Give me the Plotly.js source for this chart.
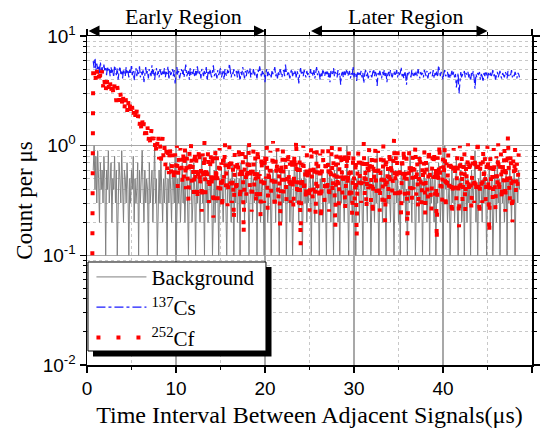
<!DOCTYPE html>
<html>
<head>
<meta charset="utf-8">
<script src="https://cdn.plot.ly/plotly-3.0.1.min.js"></script>
<style>html,body{margin:0;padding:0;background:#fff}#chart{width:542px;height:436px}</style>
</head>
<body>
<div id="chart"></div>
<script>
// Series names
const seriesNames = ['Background', '<sup>137</sup>Cs', '<sup>252</sup>Cf'];

// Time axis sampling (µs): first bin and bin width of each series
const bgStart = 0.7, bgStep = 0.1;
const csStart = 0.7, csStep = 0.1;
const cfStart = 0.6, cfStep = 0.1;

// Background (count per µs)
const bgY = [
0.6,1.0,0.4,0.8,0.3,0.9,0.5,0.2,0.7,0.4,0.6,0.3,0.8,0.5,0.1,0.6,0.4,0.9,0.3,0.5,
0.7,0.2,0.5,0.4,0.8,0.3,0.6,0.1,0.4,0.7,0.5,0.3,0.9,0.4,0.2,0.6,0.5,0.3,0.7,0.4,
0.1,0.5,0.3,0.6,0.4,0.8,0.2,0.5,0.3,0.4,0.7,0.1,0.6,0.3,0.5,0.9,0.4,0.2,0.6,0.3,
0.5,0.4,0.1,0.7,0.3,0.5,0.6,0.2,0.4,1.0,0.3,0.5,0.1,0.4,0.6,0.3,0.8,0.4,0.2,0.5,
0.3,0.6,0.4,0.1,0.5,0.3,0.7,0.4,0.2,0.6,0.5,0.3,0.8,0.1,0.4,0.5,0.3,0.6,0.2,0.4,
0.7,0.3,0.5,0.2,0.4,0.9,0.3,0.1,0.5,0.4,0.6,0.2,0.3,0.7,0.4,0.1,0.5,0.3,0.6,0.4,
0.2,0.5,0.8,0.3,0.4,0.1,0.6,0.3,0.5,0.2,0.4,0.7,0.3,0.5,0.1,0.4,0.6,0.2,0.9,0.3,
0.4,0.1,0.5,0.3,0.6,0.4,0.2,0.5,0.8,0.3,0.1,0.4,0.6,0.3,0.5,0.2,0.7,0.4,0.1,0.5,
0.3,0.6,0.2,0.4,0.5,0.1,0.7,0.3,0.4,0.6,0.2,0.5,0.3,1.0,0.4,0.1,0.3,0.5,0.6,0.2,
0.5,0.3,0.4,0.8,0.1,0.5,0.3,0.6,0.2,0.4,0.5,0.3,0.1,0.7,0.4,0.5,0.2,0.3,0.6,0.4,
0.1,0.4,0.6,0.3,0.5,0.2,0.9,0.4,0.3,0.1,0.5,0.6,0.2,0.4,0.3,0.7,0.5,0.1,0.4,0.3,
0.6,0.2,0.5,0.4,0.1,0.3,0.7,0.5,0.3,0.6,0.4,0.2,0.8,0.3,0.5,0.1,0.4,0.6,0.3,0.5,
0.2,0.4,0.3,0.7,0.5,0.1,0.4,0.6,0.3,0.2,0.5,0.9,0.4,0.3,0.1,0.5,0.4,0.6,0.2,0.4,
0.5,0.3,0.1,0.6,0.4,0.3,0.8,0.2,0.5,0.4,0.1,0.6,0.3,0.5,0.7,0.2,0.4,0.1,0.5,0.3,
0.6,0.4,0.2,0.5,0.3,1.0,0.4,0.1,0.6,0.3,0.5,0.2,0.4,0.7,0.3,0.1,0.5,0.4,0.6,0.2,
0.4,0.7,0.3,0.1,0.5,0.4,0.6,0.3,0.2,0.8,0.4,0.5,0.1,0.3,0.6,0.4,0.2,0.5,0.3,0.9,
0.3,0.1,0.5,0.4,0.6,0.2,0.4,0.7,0.3,0.1,0.5,0.3,0.6,0.4,0.2,0.5,0.8,0.3,0.1,0.4,
0.6,0.3,0.5,0.2,0.4,0.1,0.7,0.4,0.5,0.3,0.6,0.2,0.4,0.1,0.5,0.3,0.9,0.4,0.2,0.6,
0.4,0.5,0.1,0.3,0.6,0.4,0.2,0.8,0.3,0.5,0.1,0.4,0.6,0.3,0.5,0.2,0.4,0.7,0.1,0.5,
0.3,0.6,0.4,0.2,0.5,0.1,0.4,0.3,0.7,0.5,0.2,0.4,0.6,0.1,0.3,1.0,0.4,0.5,0.2,0.3,
0.5,0.1,0.4,0.6,0.3,0.5,0.2,0.4,0.8,0.3,0.1,0.5,0.4,0.6,0.2,0.3,0.5,0.1,0.7,0.4,
0.2,0.5,0.3,0.4,0.1,0.6,0.4,0.3,0.5,0.9,0.2,0.4,0.1,0.5,0.3,0.6,0.4,0.2,0.5,0.3,
0.6,0.4,0.1,0.5,0.3,0.7,0.2,0.4,0.5,0.1,0.3,0.6,0.4,0.2,0.8,0.3,0.5,0.1,0.4,0.6,
0.3,0.5,0.2,0.4,0.6,0.1,0.5,0.3,0.7,0.4,0.2,0.5,0.3,0.6,0.1,0.4,0.5,0.3,0.6,0.4
];

// 137Cs (count per µs)
const csY = [
5.9,5.1,6.3,4.8,5.6,5.0,5.4,4.6,5.8,4.9,5.2,4.5,5.5,4.8,5.1,4.4,5.3,4.7,5.0,4.3,
5.2,4.6,4.9,4.2,5.4,4.7,4.4,5.1,4.0,4.8,5.3,4.5,4.9,4.1,5.0,4.6,4.3,5.2,4.5,4.8,
4.2,5.0,4.6,5.5,4.4,4.8,3.9,4.7,5.1,4.3,4.9,4.5,5.3,4.2,4.7,4.4,5.0,3.8,4.6,5.2,
4.4,4.8,4.1,5.0,4.6,4.3,5.4,4.5,4.9,4.0,4.7,5.1,4.4,4.8,4.2,5.0,4.6,4.3,4.9,4.5,
5.1,4.2,4.7,4.5,5.3,4.0,4.8,4.4,4.6,5.0,4.3,4.9,3.7,4.6,5.2,4.4,4.8,4.1,4.7,5.0,
4.5,4.9,4.2,4.7,5.5,4.3,4.6,4.8,4.0,5.1,4.4,4.7,4.5,5.0,4.2,4.8,4.3,5.3,4.6,4.4,
4.8,4.1,5.0,4.6,4.3,4.9,4.5,5.2,3.9,4.7,4.4,5.0,4.6,4.2,4.8,5.4,4.3,4.7,4.5,4.1,
4.9,4.4,4.7,5.1,4.2,4.6,4.8,4.0,5.0,4.5,4.3,4.9,4.6,5.6,4.4,4.2,4.7,4.5,5.0,4.3,
4.6,4.8,4.2,5.0,4.5,3.9,4.7,4.4,5.2,4.6,4.1,4.8,4.3,4.9,4.5,4.7,5.1,4.2,4.6,4.4,
5.0,4.3,4.7,4.5,4.1,4.9,4.6,5.3,4.4,4.2,4.8,4.5,4.7,3.8,4.6,5.0,4.3,4.8,4.4,4.6,
4.2,4.9,4.5,4.7,5.2,4.3,4.6,4.1,4.8,4.4,5.0,4.5,4.2,4.7,4.9,4.3,5.5,4.6,4.4,4.8,
4.5,4.1,4.7,5.0,4.3,4.6,4.4,4.9,4.2,4.8,4.5,3.7,4.6,5.1,4.4,4.7,4.3,4.9,4.5,4.2,
4.8,4.4,4.6,4.2,5.0,4.5,4.7,4.3,4.9,4.1,4.6,5.2,4.4,4.8,4.5,4.0,4.7,4.3,5.0,4.6,
4.3,4.7,4.5,4.9,4.2,4.6,3.8,4.8,4.4,4.6,5.1,4.3,4.7,4.5,4.2,4.9,4.4,4.6,3.6,4.5,
4.7,4.2,4.9,4.4,4.6,5.0,4.3,4.5,4.8,4.1,4.6,4.4,5.3,4.2,4.7,4.5,3.9,4.8,4.3,4.6,
4.4,4.8,4.2,4.6,3.7,4.5,4.9,4.3,4.7,4.1,4.5,4.8,4.4,4.2,4.6,5.0,4.3,4.7,4.5,3.5,
4.6,4.3,4.8,4.5,4.1,4.7,4.4,4.9,4.2,4.6,3.8,4.5,4.7,4.3,4.9,4.4,4.2,4.6,4.8,4.3,
4.5,4.9,4.2,4.7,4.4,4.6,5.2,4.3,4.5,4.1,4.8,4.4,3.6,4.6,4.3,4.7,4.5,4.2,4.9,4.4,
4.2,4.6,4.4,4.8,4.3,5.0,4.5,4.1,4.7,4.4,4.6,4.2,4.9,4.5,4.3,4.8,4.1,4.6,4.4,4.7,
4.5,4.3,4.9,4.1,4.6,4.4,4.8,4.2,5.4,4.5,4.3,4.7,4.4,4.0,4.6,4.9,4.3,4.5,4.7,4.2,
4.6,4.1,4.5,4.8,4.3,4.7,4.2,4.5,3.4,4.4,4.6,3.0,4.3,4.7,4.1,4.5,4.4,4.8,4.2,4.6,
4.4,4.7,4.2,4.5,3.9,4.6,4.3,4.8,4.1,3.3,4.5,4.2,4.6,4.4,4.7,4.0,4.5,4.3,3.8,4.6,
4.3,4.8,4.5,4.1,4.6,4.4,4.7,4.2,4.5,4.9,4.3,4.6,4.0,4.4,4.7,4.2,4.5,4.8,4.3,4.1,
4.6,4.4,4.2,4.7,4.5,4.1,4.8,4.3,4.6,4.4,4.9,4.2,4.5,4.3,4.7,4.4,4.1,4.6,4.5,4.2
];

// 252Cf (count per µs)
const cfY = [
0.1,5.6,4.4,5.2,3.8,5.0,4.1,4.8,3.5,4.6,
3.9,4.9,3.4,4.5,3.7,2.9,4.4,3.5,4.1,3.0,
3.8,2.8,4.0,3.2,2.7,3.7,3.0,2.5,3.5,2.9,
2.4,3.4,2.8,2.2,3.2,2.6,2.0,3.0,2.5,1.9,
2.8,2.1,2.5,1.8,2.7,2.2,1.7,2.4,1.9,1.6,
2.2,1.7,2.0,1.5,1.9,1.4,1.8,1.3,1.7,1.25,
1.6,1.15,1.5,1.05,1.4,1.0,1.3,1.55,0.95,1.2,
0.9,1.2,0.8,1.1,1.35,0.75,1.05,0.7,1.0,1.2,
0.75,1.0,0.65,0.95,0.6,0.9,0.55,1.05,0.7,0.5,
0.9,0.6,0.45,0.85,0.6,1.0,0.4,0.8,0.55,0.95,
0.8,0.45,0.95,0.5,1.0,0.4,0.85,0.55,0.3,0.9,0.6,1.05,0.45,0.75,0.35,0.95,0.5,0.8,0.3,0.7,
1.0,0.4,0.65,0.25,0.85,0.5,1.1,0.35,0.7,0.45,0.95,0.3,0.6,0.9,0.4,0.75,0.22,0.65,1.0,0.45,
0.8,0.3,0.55,0.95,0.35,0.7,0.25,0.9,0.5,1.1,0.4,0.75,0.28,0.6,1.0,0.45,0.85,0.3,0.65,0.2,
0.9,0.5,0.35,0.8,0.6,1.05,0.3,0.7,0.45,0.95,0.15,0.6,0.85,0.35,0.75,0.5,1.15,0.4,0.7,0.25,
0.6,0.95,0.4,0.8,0.28,0.65,1.0,0.35,0.55,0.22,0.85,0.45,0.7,0.3,0.9,0.5,1.05,0.25,0.65,0.45,
0.9,0.35,0.7,1.1,0.4,0.25,0.8,0.5,0.95,0.3,0.6,0.18,0.75,0.45,1.0,0.35,0.65,0.85,0.3,0.55,
0.95,0.4,0.7,0.3,0.85,0.5,0.25,0.9,0.45,1.2,0.35,0.65,0.28,0.8,0.12,0.7,0.45,1.0,0.35,0.6,
0.3,0.85,0.45,0.7,0.25,0.6,1.05,0.4,0.3,0.9,0.55,0.22,0.95,0.4,0.75,0.3,0.85,0.2,0.65,1.0,
0.45,0.3,0.8,0.5,0.35,0.95,0.25,0.7,0.45,1.1,0.35,0.75,0.5,0.17,0.9,0.4,0.7,0.28,1.05,0.5,
0.8,0.35,0.6,0.95,0.25,0.5,0.85,0.4,1.0,0.3,0.7,0.45,0.22,0.9,0.55,0.3,0.8,0.14,0.6,0.95,
0.4,0.75,0.3,0.85,0.45,1.1,0.35,0.65,0.25,0.8,0.4,0.95,0.55,0.3,0.85,0.22,0.7,0.45,1.0,0.35,
0.6,0.9,0.4,0.25,0.8,0.5,0.3,1.05,0.55,0.2,0.85,0.4,0.7,0.3,0.95,0.45,0.75,0.35,0.6,1.2,
0.35,0.8,0.5,0.95,0.3,0.7,0.4,0.22,0.85,0.5,1.0,0.35,0.6,0.8,0.15,0.65,0.9,0.4,0.75,0.3,
0.85,0.4,0.65,1.05,0.35,0.75,0.25,0.55,0.9,0.45,0.28,0.7,0.4,0.95,0.22,0.8,0.5,0.3,1.0,0.55,
0.4,0.25,0.85,0.5,0.95,0.35,0.7,0.13,0.8,0.45,1.1,0.4,0.65,0.3,0.85,0.5,1.0,0.25,0.7,0.4,
0.9,0.35,0.6,0.8,0.22,0.55,0.95,0.4,0.75,0.3,0.85,0.5,0.18,1.0,0.4,0.8,0.3,0.65,0.9,0.25,
0.7,0.4,1.05,0.35,0.8,0.5,0.25,0.9,0.45,0.3,0.85,0.35,0.7,1.2,0.45,0.22,0.8,0.55,0.3,0.95,
0.45,0.8,0.3,0.65,1.0,0.4,0.15,0.85,0.45,0.7,0.3,0.95,0.5,0.25,0.8,0.4,1.05,0.35,0.6,0.9,
0.3,0.75,0.45,1.0,0.25,0.8,0.4,1.3,0.55,0.3,0.9,0.45,0.2,0.8,0.5,0.95,0.35,0.7,0.4,0.85
];

// Axis ticks
const yTickVals = [0.01, 0.1, 1, 10];
const yTickText = ['10<sup>-2</sup>', '10<sup>-1</sup>', '10<sup>0</sup>', '10<sup>1</sup>'];
const xTickVals = [0, 10, 20, 30, 40, 50];

// Region annotations
const regionLabels = ['Early Region', 'Later Region'];
const regionSpans = [[0, 20], [25, 45]];

const serif = 'Liberation Serif, Times New Roman, serif';
const sans = 'Liberation Sans, Arial, sans-serif';

const traces = [
  {type: 'scatter', mode: 'lines', name: seriesNames[0], x0: bgStart, dx: bgStep, y: bgY,
   line: {color: '#808080', width: 1}},
  {type: 'scatter', mode: 'lines', name: seriesNames[1], x0: csStart, dx: csStep, y: csY,
   line: {color: '#1a1aff', width: 1.2, dash: 'dashdot'}},
  {type: 'scatter', mode: 'lines', name: seriesNames[2], x0: cfStart, dx: cfStep, y: cfY,
   line: {color: '#ff0000', width: 4, dash: '4px,16px'}}
];

const annotations = [];
regionLabels.forEach((lab, i) => {
  const [a, b] = regionSpans[i];
  annotations.push({xref: 'x', yref: 'paper', x: b, y: 1.0155, ax: a, axref: 'x', ay: 0, ayref: 'pixel',
    showarrow: true, arrowside: 'end+start', arrowhead: 2, arrowsize: 1.1, arrowwidth: 2,
    arrowcolor: '#000', text: '', standoff: 0, startstandoff: 0});
  annotations.push({xref: 'x', yref: 'paper', x: (a + b) / 2 + 0.8, y: 1.058, showarrow: false,
    text: lab, font: {family: serif, size: 22, color: '#000'}, xanchor: 'center', yanchor: 'middle'});
});

const layout = {
  width: 542, height: 436,
  margin: {l: 87, r: 10, t: 36, b: 71},
  paper_bgcolor: '#fff', plot_bgcolor: '#fff',
  showlegend: true,
  legend: {x: 0.01, y: 0.329, xanchor: 'left', yanchor: 'top', bgcolor: 'rgba(0,0,0,0)',
    borderwidth: 0, font: {family: serif, size: 21, color: '#000'}, itemwidth: 50,
    tracegroupgap: 0},
  xaxis: {
    range: [0, 50], tickmode: 'array', tickvals: xTickVals,
    ticks: 'outside', ticklen: 6, tickwidth: 1.5, tickcolor: '#000',
    showline: true, linecolor: '#000', linewidth: 1.5, mirror: 'ticks',
    showgrid: true, gridcolor: '#a8a8a8', gridwidth: 1.5, zeroline: false,
    tickfont: {family: sans, size: 19, color: '#000'},
    minor: {dtick: 5, tick0: 0, ticks: 'outside', ticklen: 3, tickcolor: '#000', tickwidth: 1,
      showgrid: true, gridcolor: '#c8c8c8', griddash: 'dot', gridwidth: 1},
    title: {text: 'Time Interval Between Adjacent Signals(μs)', font: {family: serif, size: 24, color: '#000'}, standoff: 8}
  },
  yaxis: {
    type: 'log', range: [-2, 1], tickmode: 'array', tickvals: yTickVals, ticktext: yTickText,
    ticks: 'outside', ticklen: 6, tickwidth: 1.5, tickcolor: '#000',
    showline: true, linecolor: '#000', linewidth: 1.5, mirror: 'ticks',
    showgrid: true, gridcolor: '#a8a8a8', gridwidth: 1.5, zeroline: false,
    tickfont: {family: sans, size: 19, color: '#000'},
    minor: {dtick: 'D1', ticks: 'outside', ticklen: 3, tickcolor: '#000', tickwidth: 1,
      showgrid: true, gridcolor: '#c8c8c8', griddash: 'dot', gridwidth: 1},
    title: {text: 'Count per μs', font: {family: serif, size: 23, color: '#000'}, standoff: 3}
  },
  shapes: [
    {type: 'rect', xref: 'paper', yref: 'paper', x0: 0.0135, x1: 0.4146, y0: 0.0258, y1: 0.2979,
     fillcolor: '#000', line: {width: 0}, layer: 'above'},
    {type: 'rect', xref: 'paper', yref: 'paper', x0: 0.0022, x1: 0.4022, y0: 0.0426, y1: 0.3131,
     fillcolor: '#fff', line: {color: '#000', width: 1}, layer: 'above'}
  ],
  annotations: annotations
};

Plotly.newPlot('chart', traces, layout, {staticPlot: true, displayModeBar: false});
</script>
</body>
</html>
